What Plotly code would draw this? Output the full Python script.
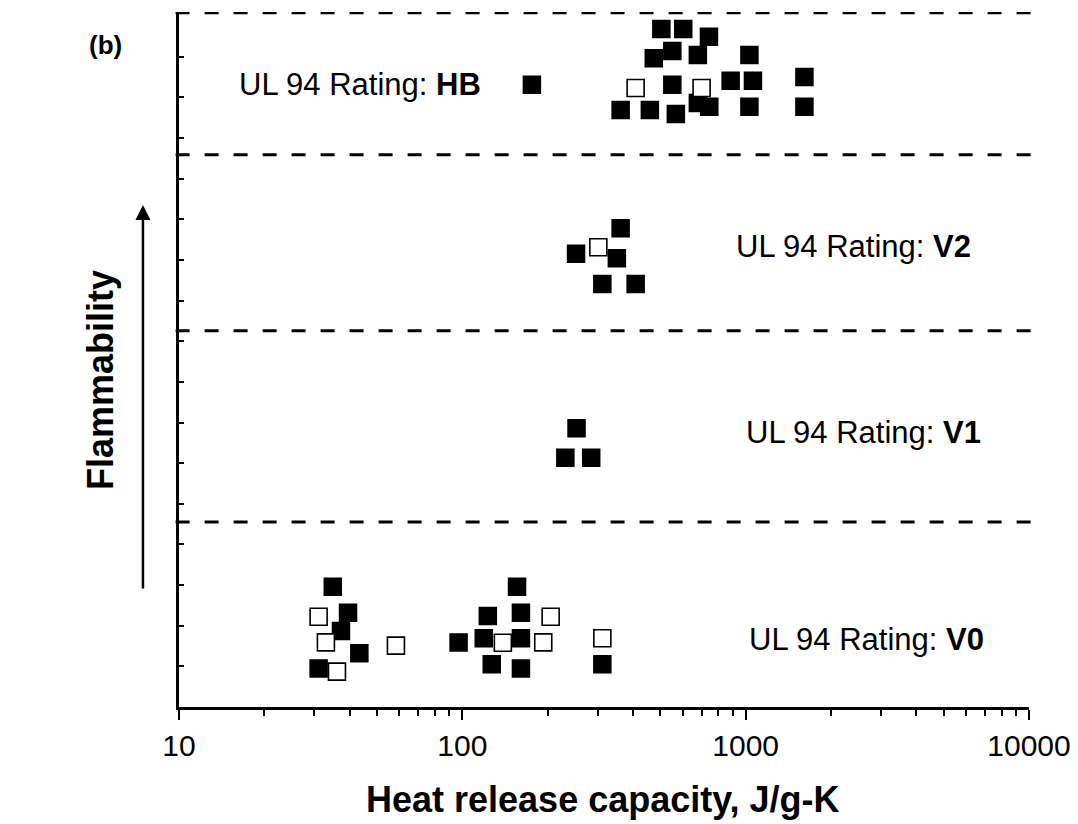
import math
import plotly.graph_objects as go

# ---- data (heat release capacity, J/g-K ; vertical position within rating band) ----
hb_filled_x = [504, 602, 742, 551, 474, 678, 1031, 176, 551, 885, 1061, 1612, 362, 459, 567, 678, 744, 1031, 1612]
hb_filled_y = [16.68, 16.68, 16.49, 16.14, 15.96, 16.04, 16.04, 15.31, 15.31, 15.41, 15.41, 15.50, 14.69, 14.69, 14.59, 14.86, 14.77, 14.77, 14.77]
hb_open_x = [409, 699]
hb_open_y = [15.23, 15.23]

v2_filled_x = [362, 252, 351, 312, 409]
v2_filled_y = [11.78, 11.15, 11.04, 10.41, 10.41]
v2_open_x = [302]
v2_open_y = [11.31]

v1_filled_x = [253, 231, 285]
v1_filled_y = [6.86, 6.13, 6.13]

v0_filled_x = [34.9, 39.5, 37.3, 43.3, 31.1, 156, 123, 161, 97, 119, 161, 127, 161, 312]
v0_filled_y = [2.96, 2.32, 1.87, 1.32, 0.95, 2.96, 2.24, 2.32, 1.59, 1.69, 1.69, 1.05, 0.95, 1.05]
v0_open_x = [31.1, 33.0, 58.3, 36.1, 205, 139, 193, 312]
v0_open_y = [2.22, 1.59, 1.51, 0.87, 2.22, 1.58, 1.59, 1.69]

band_boundaries = [4.55, 9.26, 13.59, 17.08]
ratings = ["V0", "V1", "V2", "HB"]
rating_label_x = [2680, 2610, 2410, 43.6]
rating_label_y = [1.65, 6.76, 11.33, 15.31]

x_ticks = [10, 100, 1000, 10000]
x_tick_text = ["10", "100", "1000", "10000"]

FONT = "Arial, Liberation Sans, sans-serif"

filled_x = hb_filled_x + v2_filled_x + v1_filled_x + v0_filled_x
filled_y = hb_filled_y + v2_filled_y + v1_filled_y + v0_filled_y
open_x = hb_open_x + v2_open_x + v0_open_x
open_y = hb_open_y + v2_open_y + v0_open_y

fig = go.Figure()
fig.add_trace(go.Scatter(
    x=filled_x, y=filled_y, mode="markers",
    marker=dict(symbol="square", size=17, color="black", line=dict(color="black", width=1.5)),
    showlegend=False, cliponaxis=False))
fig.add_trace(go.Scatter(
    x=open_x, y=open_y, mode="markers",
    marker=dict(symbol="square", size=17, color="white", line=dict(color="black", width=1.6)),
    showlegend=False, cliponaxis=False))

for b in band_boundaries:
    fig.add_shape(type="line", xref="paper", yref="y", x0=-0.004, x1=1.003, y0=b, y1=b,
                  line=dict(color="black", width=3, dash="14px,15px"))

for r, lx, ly in zip(ratings, rating_label_x, rating_label_y):
    fig.add_annotation(x=math.log10(lx), y=ly, xref="x", yref="y",
                       text="UL 94 Rating: <b>%s</b>" % r, showarrow=False,
                       font=dict(family=FONT, size=31, color="black"),
                       xanchor="center", yanchor="middle")

# Flammability arrow
fig.add_annotation(xref="paper", yref="paper", x=-0.0424, y=0.7223, ax=0, ay=385,
                   text="", showarrow=True, arrowhead=2, arrowsize=1.2, arrowwidth=2.5,
                   arrowcolor="black", standoff=0, startstandoff=0)
fig.add_annotation(xref="paper", yref="paper", x=-0.093, y=0.4705, text="<b>Flammability</b>",
                   textangle=-90, showarrow=False, font=dict(family=FONT, size=36, color="black"),
                   xanchor="center", yanchor="middle")
fig.add_annotation(xref="paper", yref="paper", x=-0.087, y=0.952, text="<b>(b)</b>",
                   showarrow=False, font=dict(family=FONT, size=26, color="black"),
                   xanchor="center", yanchor="middle")
fig.add_annotation(xref="paper", yref="paper", x=0.4994, y=-0.1338,
                   text="<b>Heat release capacity, J/g-K</b>", showarrow=False,
                   font=dict(family=FONT, size=36, color="black"),
                   xanchor="center", yanchor="middle")

fig.update_xaxes(type="log", range=[1, 4], tickvals=x_ticks, ticktext=x_tick_text,
                 ticks="outside", ticklen=10, tickwidth=2, tickcolor="black", automargin=False,
                 showline=True, linecolor="black", linewidth=2.5, showgrid=False, zeroline=False,
                 tickfont=dict(family=FONT, size=30, color="black"),
                 minor=dict(ticks="outside", ticklen=6, tickwidth=1.8, tickcolor="black",
                            dtick="D1", showgrid=False))
fig.update_yaxes(range=[0, 17.1], tickvals=list(range(1, 17)), showticklabels=False,
                 ticks="inside", ticklen=5, tickwidth=1.5, tickcolor="black", automargin=False,
                 showline=True, linecolor="black", linewidth=2.5, showgrid=False, zeroline=False)

fig.update_layout(width=1078, height=824, margin=dict(l=179, r=49, t=12, b=117),
                  plot_bgcolor="white", paper_bgcolor="white",
                  font=dict(family=FONT, color="black"))

fig.write_html("out.html")
